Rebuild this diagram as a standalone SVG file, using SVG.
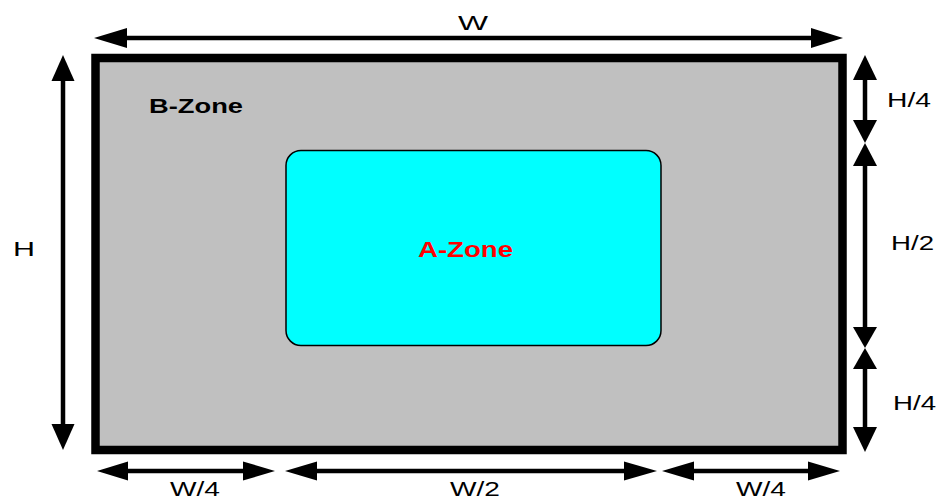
<svg xmlns="http://www.w3.org/2000/svg" width="939" height="501" viewBox="0 0 939 501">
<style>
.dim{stroke:#000;stroke-width:4.5;fill:none}
.hd{fill:#000;stroke:none}
.lbl{font-family:"Liberation Sans",Arial,sans-serif;font-size:21px;fill:#000}
.zone{font-family:"Liberation Sans",Arial,sans-serif;font-weight:bold}
</style>
<rect width="939" height="501" fill="#fff"/>
<g id="b-zone">
<rect x="95.5" y="58" width="747" height="392" fill="#c0c0c0" stroke="#000" stroke-width="8.5"/>
<text class="zone" x="149" y="113" font-size="20" fill="#000" textLength="94" lengthAdjust="spacingAndGlyphs">B-Zone</text>
</g>
<g id="a-zone">
<rect x="286" y="150.5" width="375" height="195" rx="15" ry="15" fill="#00ffff" stroke="#000" stroke-width="1.5"/>
<text class="zone" x="418" y="257" font-size="22" fill="#ff0000" textLength="95" lengthAdjust="spacingAndGlyphs">A-Zone</text>
</g>
<g id="connectors">
<line class="dim" x1="120" y1="38" x2="820" y2="38"/>
<polygon class="hd" points="94,38 127,28 127,48"/>
<polygon class="hd" points="843,38 811,28 811,48"/>
<line class="dim" x1="63" y1="75" x2="63" y2="430"/>
<polygon class="hd" points="63,55 51.5,81 74.5,81"/>
<polygon class="hd" points="63,450 51.5,424 74.5,424"/>
<line class="dim" x1="865" y1="75" x2="865" y2="125"/>
<polygon class="hd" points="865,55 853,80 877,80"/>
<polygon class="hd" points="865,143 853,120 877,120"/>
<line class="dim" x1="865" y1="160" x2="865" y2="332"/>
<polygon class="hd" points="865,143 853,166 877,166"/>
<polygon class="hd" points="865,348 853,327 877,327"/>
<line class="dim" x1="865" y1="364" x2="865" y2="432"/>
<polygon class="hd" points="865,348 853,369 877,369"/>
<polygon class="hd" points="865,452 853,427 877,427"/>
<line class="dim" x1="120" y1="471" x2="250" y2="471"/>
<polygon class="hd" points="97,471 128,461.5 128,480.5"/>
<polygon class="hd" points="275,471 243,461.5 243,480.5"/>
<line class="dim" x1="310" y1="471" x2="630" y2="471"/>
<polygon class="hd" points="285,471 317,461.5 317,480.5"/>
<polygon class="hd" points="657,471 624,461.5 624,480.5"/>
<line class="dim" x1="688" y1="471" x2="815" y2="471"/>
<polygon class="hd" points="662,471 694,461.5 694,480.5"/>
<polygon class="hd" points="840,471 808,461.5 808,480.5"/>
</g>
<g id="labels">
<text class="lbl" x="458" y="30" textLength="30" lengthAdjust="spacingAndGlyphs">W</text>
<text class="lbl" x="13" y="256" textLength="22" lengthAdjust="spacingAndGlyphs">H</text>
<text class="lbl" x="887" y="107" textLength="44" lengthAdjust="spacingAndGlyphs">H/4</text>
<text class="lbl" x="891" y="250" textLength="43" lengthAdjust="spacingAndGlyphs">H/2</text>
<text class="lbl" x="893" y="410" textLength="43" lengthAdjust="spacingAndGlyphs">H/4</text>
<text class="lbl" x="170" y="496" textLength="50" lengthAdjust="spacingAndGlyphs">W/4</text>
<text class="lbl" x="450" y="496" textLength="50" lengthAdjust="spacingAndGlyphs">W/2</text>
<text class="lbl" x="736" y="496" textLength="50" lengthAdjust="spacingAndGlyphs">W/4</text>
</g>
</svg>
